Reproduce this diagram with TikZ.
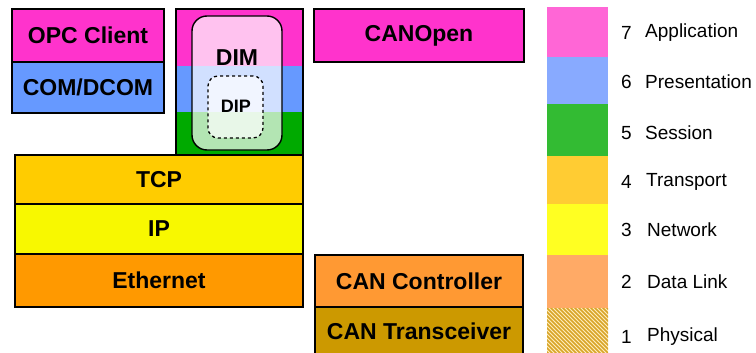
\documentclass[tikz,border=0pt]{standalone}
\usepackage{fontspec}
\setmainfont{Liberation Sans}
\definecolor{appmag}{HTML}{FF33CC}
\definecolor{presblue}{HTML}{6699FF}
\definecolor{sessgreen}{HTML}{00AA00}
\definecolor{tcpyel}{HTML}{FFCC00}
\definecolor{ipyel}{HTML}{F8F800}
\definecolor{ethorange}{HTML}{FF9900}
\definecolor{canctl}{HTML}{FF9933}
\definecolor{cantrx}{HTML}{CC9900}
\definecolor{lgapp}{HTML}{FF66D6}
\definecolor{lgpres}{HTML}{88AAFF}
\definecolor{lgsess}{HTML}{33BB33}
\definecolor{lgtrans}{HTML}{FFCC33}
\definecolor{lgnet}{HTML}{FFFF22}
\definecolor{lglink}{HTML}{FFAA66}
\definecolor{lgphysbg}{HTML}{FFEFC0}
\definecolor{lgphys}{HTML}{D8A428}
\tikzset{
  box/.style={draw=black, line width=2pt, inner sep=0pt,
    font=\fontsize{23}{25}\selectfont\bfseries},
  lgnum/.style={anchor=west, inner sep=0pt, font=\fontsize{19}{21}\selectfont},
  lgtext/.style={anchor=west, inner sep=0pt, font=\fontsize{19}{21}\selectfont},
}
\begin{document}
\begin{tikzpicture}[x=1pt, y=-1pt]
\useasboundingbox (0,0) rectangle (756,353);
\clip (0,0) rectangle (756,353);

% left stack: OPC client over COM/DCOM
\node[box, fill=appmag, minimum width=152pt, minimum height=53pt] (opc) at (88,35.5) {OPC Client};
\node[box, fill=presblue, minimum width=152pt, minimum height=51pt] (com) at (88,87.5) {COM/DCOM};

% DIM column with three layer bands
\fill[appmag] (176,9) rectangle (303,66);
\fill[presblue] (176,66) rectangle (303,112);
\fill[sessgreen] (176,112) rectangle (303,155);
\node[draw=black, line width=2pt, minimum width=127pt, minimum height=146pt, inner sep=0pt] (dimcol) at (239.5,82) {};
\node[draw=black, line width=1.4pt, rounded corners=15pt, fill=white, fill opacity=0.7,
      minimum width=90pt, minimum height=134pt, inner sep=0pt] (dimbox) at (237,83) {};
\node[font=\fontsize{23}{25}\selectfont\bfseries, inner sep=0pt] (dimlabel) at (237,58) {DIM};
\node[draw=black, line width=1.3pt, dashed, rounded corners=10pt, fill=white, fill opacity=0.7,
      minimum width=55pt, minimum height=62pt, inner sep=0pt] (dipbox) at (235.5,107) {};
\node[font=\fontsize{18}{20}\selectfont\bfseries, inner sep=0pt] (diplabel) at (236,106) {DIP};

% CANopen
\node[box, fill=appmag, minimum width=210pt, minimum height=53pt] (canopen) at (419,35.5) {CANOpen};

% TCP/IP over Ethernet
\node[box, fill=tcpyel, minimum width=288pt, minimum height=49pt] (tcp) at (159,179.5) {TCP};
\node[box, fill=ipyel, minimum width=288pt, minimum height=50pt] (ip) at (159,229) {IP};
\node[box, fill=ethorange, minimum width=288pt, minimum height=53pt] (eth) at (159,280.5) {Ethernet};

% CAN lower layers
\node[box, fill=canctl, minimum width=208pt, minimum height=52pt] (canctrl) at (419,281) {CAN Controller};
\node[box, fill=cantrx, minimum width=208pt, minimum height=49pt] (cantrx) at (419,331.5) {CAN Transceiver};

% OSI legend column
\fill[lgapp] (547,7) rectangle (608,57);
\fill[lgpres] (547,57) rectangle (608,104);
\fill[lgsess] (547,104) rectangle (608,156);
\fill[lgtrans] (547,156) rectangle (608,204);
\fill[lgnet] (547,204) rectangle (608,255);
\fill[lglink] (547,255) rectangle (608,308);
\fill[lgphysbg] (547,308) rectangle (608,353);
\begin{scope}
  \clip (547,308) rectangle (608,353);
  \foreach \k in {0,4,...,120}
    \draw[lgphys, line width=1.7pt] (547+\k-60,300) -- (547+\k,360);
\end{scope}

\node[lgnum] (n7) at (621,33) {7};
\node[lgtext] (t7) at (645,33) {Application};
\node[lgnum] (n6) at (621,82) {6};
\node[lgtext] (t6) at (645,82) {Presentation};
\node[lgnum] (n5) at (621,133) {5};
\node[lgtext] (t5) at (645,133) {Session};
\node[lgnum] (n4) at (621,182) {4};
\node[lgtext] (t4) at (646,182) {Transport};
\node[lgnum] (n3) at (621,230) {3};
\node[lgtext] (t3) at (647,230) {Network};
\node[lgnum] (n2) at (621,282) {2};
\node[lgtext] (t2) at (647,282) {Data Link};
\node[lgnum] (n1) at (621,337) {1};
\node[lgtext] (t1) at (647,337) {Physical};
\end{tikzpicture}
\end{document}
